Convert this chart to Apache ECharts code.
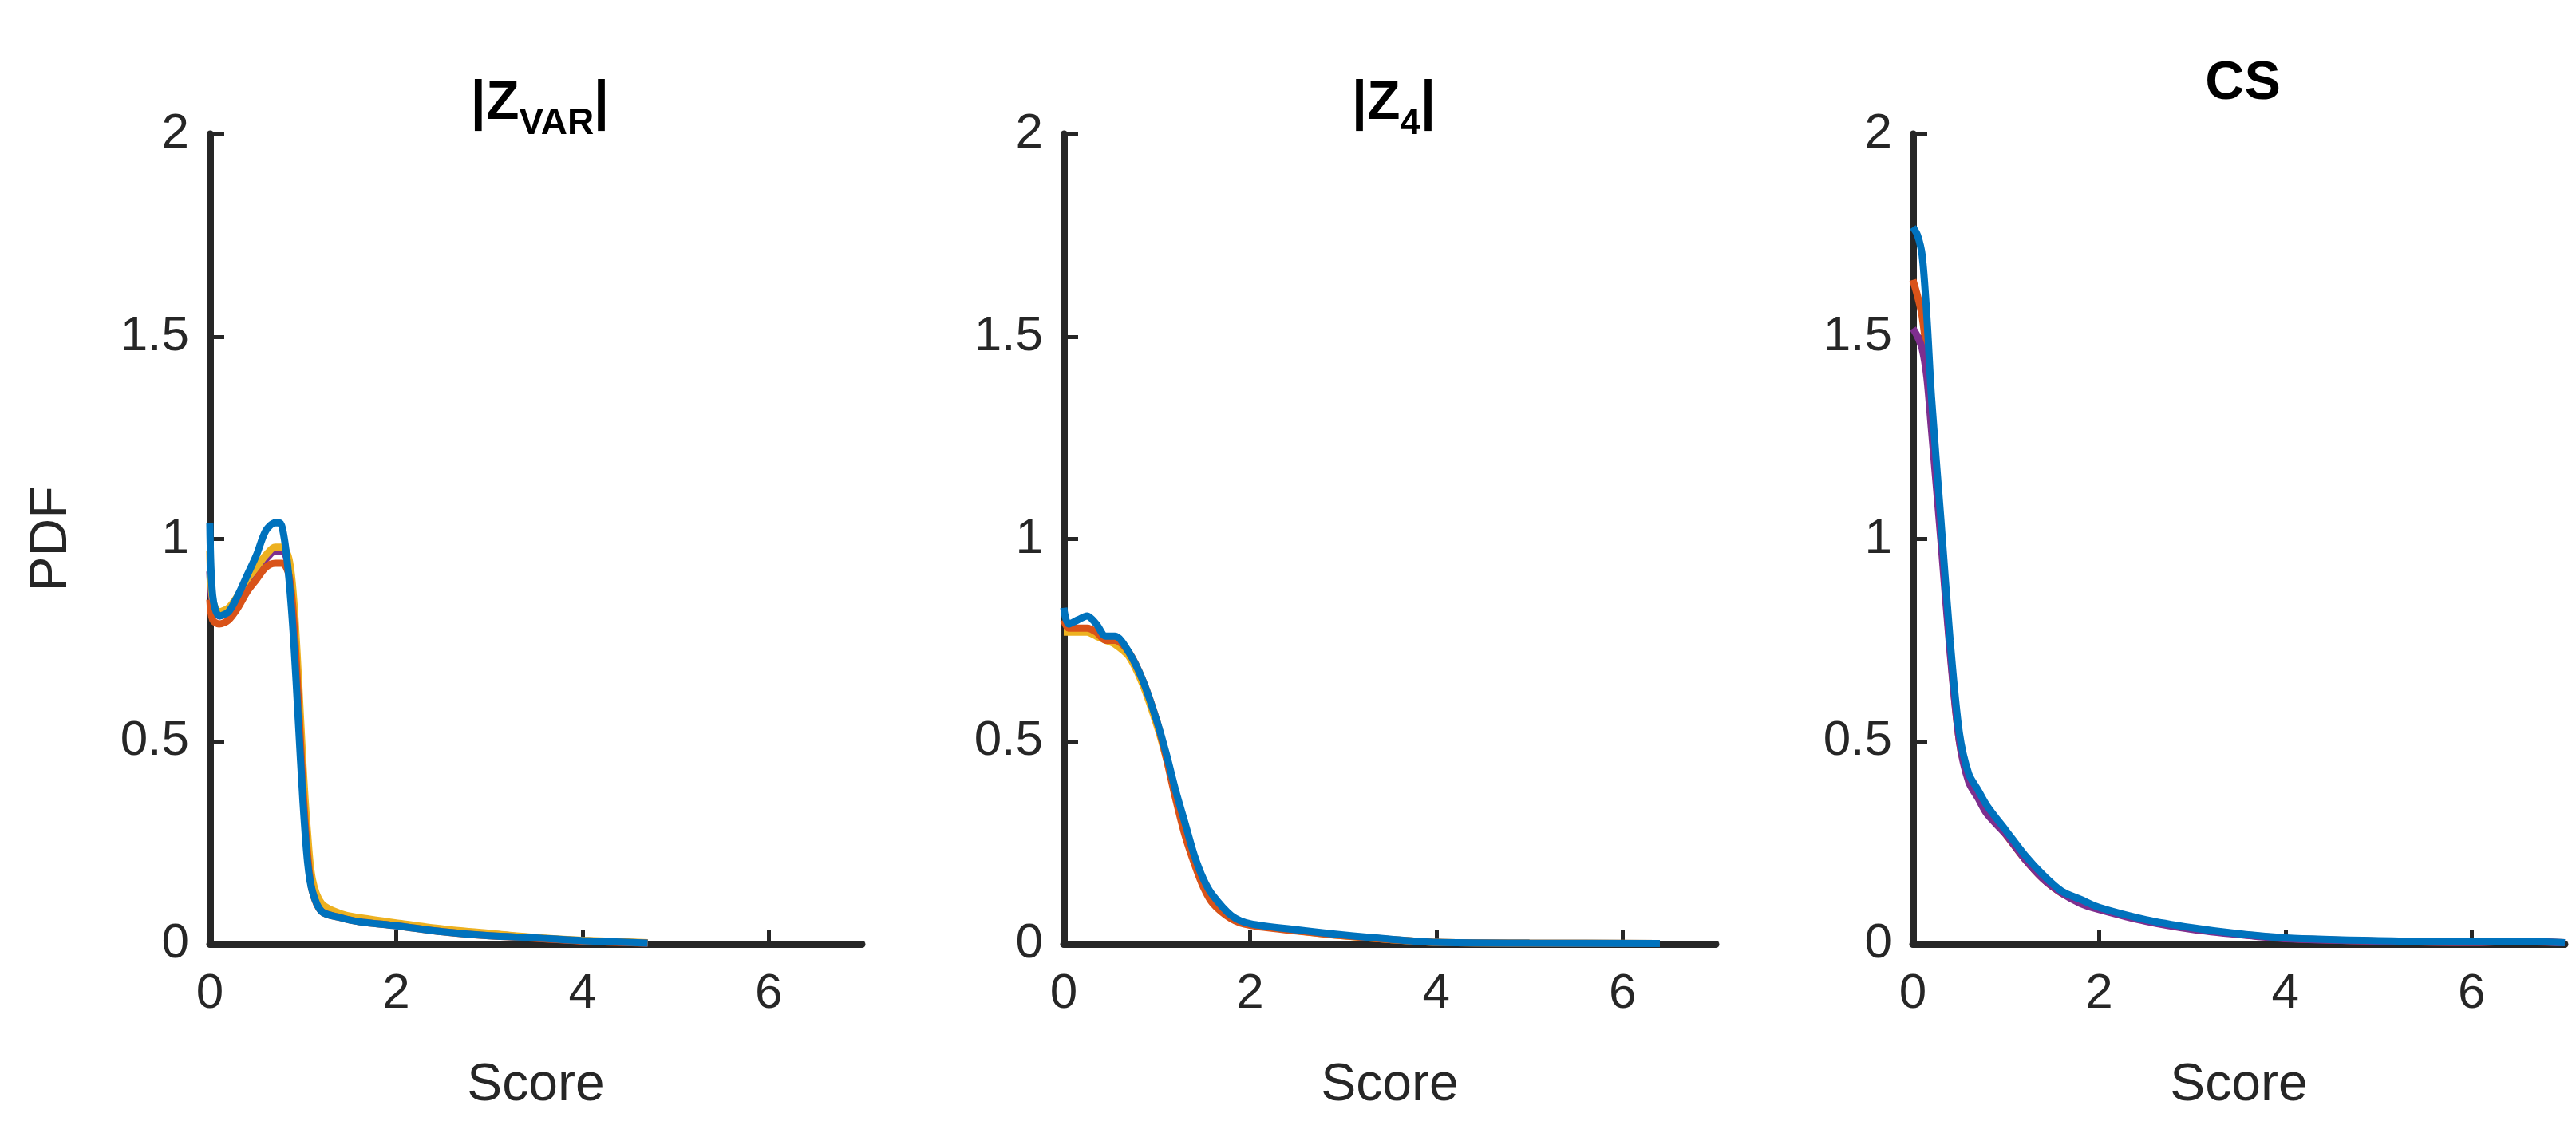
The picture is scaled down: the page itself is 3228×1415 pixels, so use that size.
<!DOCTYPE html>
<html><head><meta charset="utf-8">
<script src="https://cdn.jsdelivr.net/npm/echarts@6/dist/echarts.min.js"></script>
<style>html,body{margin:0;background:#fff}#c{width:3228px;height:1415px}</style>
</head><body><div id="c"></div>
<script>
const xTicks = [0, 2, 4, 6];
const yTicks = [0, 0.5, 1, 1.5, 2];
const colors = ['#7E2F8E','#77AC30','#EDB120','#D95319','#4DBEEE','#A2142F','#0072BD'];

// Panel 1 |Z_VAR|
const p1a = [[0,0.92],[0.03,0.84],[0.1,0.81],[0.2,0.82],[0.3,0.85],[0.4,0.89],[0.5,0.92],[0.6,0.95],[0.7,0.97],[0.78,0.97],[0.85,0.93],[0.9,0.82],[0.95,0.62],[1.0,0.4],[1.05,0.24],[1.1,0.15],[1.2,0.09],[1.4,0.07],[1.6,0.06],[2,0.05],[2.5,0.035],[3,0.025],[3.5,0.015],[4,0.008],[4.7,0.002]];
const p1b = [[0,0.97],[0.03,0.85],[0.1,0.82],[0.2,0.83],[0.3,0.86],[0.4,0.9],[0.5,0.93],[0.6,0.96],[0.7,0.98],[0.78,0.98],[0.85,0.95],[0.9,0.85],[0.95,0.66],[1.0,0.44],[1.05,0.27],[1.1,0.16],[1.2,0.1],[1.4,0.075],[1.6,0.065],[2,0.052],[2.5,0.037],[3,0.026],[3.5,0.016],[4,0.009],[4.7,0.003]];
const p1c = [[0,0.85],[0.03,0.8],[0.1,0.79],[0.2,0.8],[0.3,0.83],[0.4,0.87],[0.5,0.9],[0.6,0.93],[0.7,0.94],[0.78,0.94],[0.85,0.91],[0.9,0.8],[0.95,0.6],[1.0,0.38],[1.05,0.22],[1.1,0.13],[1.2,0.08],[1.4,0.065],[1.6,0.055],[2,0.045],[2.5,0.03],[3,0.02],[3.5,0.014],[4,0.007],[4.7,0.002]];
const p1d = [[0,1.04],[0.03,0.86],[0.1,0.81],[0.2,0.82],[0.3,0.86],[0.4,0.91],[0.5,0.96],[0.6,1.02],[0.7,1.04],[0.75,1.04],[0.8,1.0],[0.85,0.9],[0.9,0.75],[0.95,0.55],[1.0,0.35],[1.05,0.2],[1.1,0.13],[1.2,0.08],[1.4,0.065],[1.6,0.055],[2,0.045],[2.5,0.03],[3,0.02],[3.5,0.015],[4,0.008],[4.7,0.002]];

// Panel 2 |Z_4|
const p2a = [[0,0.77],[0.05,0.77],[0.15,0.77],[0.25,0.77],[0.35,0.76],[0.45,0.75],[0.55,0.74],[0.7,0.71],[0.85,0.64],[1.0,0.54],[1.1,0.46],[1.2,0.37],[1.3,0.29],[1.4,0.21],[1.5,0.15],[1.6,0.11],[1.8,0.065],[2,0.048],[2.5,0.033],[3,0.02],[3.5,0.011],[4,0.004],[5,0.002],[6.4,0.001]];
const p2b = [[0,0.8],[0.05,0.78],[0.15,0.78],[0.25,0.78],[0.35,0.77],[0.45,0.75],[0.55,0.75],[0.7,0.72],[0.85,0.65],[1.0,0.55],[1.1,0.46],[1.2,0.36],[1.3,0.27],[1.4,0.2],[1.5,0.14],[1.6,0.1],[1.8,0.062],[2,0.046],[2.5,0.032],[3,0.02],[3.5,0.011],[4,0.004],[5,0.002],[6.4,0.001]];
const p2c = [[0,0.83],[0.05,0.79],[0.15,0.8],[0.25,0.81],[0.35,0.79],[0.45,0.76],[0.55,0.76],[0.7,0.72],[0.85,0.65],[1.0,0.55],[1.1,0.47],[1.2,0.38],[1.3,0.3],[1.4,0.22],[1.5,0.16],[1.6,0.12],[1.8,0.07],[2,0.05],[2.5,0.035],[3,0.022],[3.5,0.012],[4,0.004],[5,0.002],[6.4,0.001]];

// Panel 3 CS
const p3a = [[0,1.64],[0.05,1.6],[0.1,1.55],[0.15,1.45],[0.2,1.3],[0.3,1.02],[0.4,0.73],[0.5,0.5],[0.6,0.41],[0.7,0.37],[0.8,0.33],[1.0,0.27],[1.2,0.21],[1.4,0.16],[1.6,0.125],[1.8,0.105],[2,0.088],[2.5,0.058],[3,0.038],[3.5,0.024],[4,0.014],[5,0.007],[6,0.004],[6.5,0.006],[7,0.003]];
const p3b = [[0,1.52],[0.05,1.5],[0.1,1.47],[0.15,1.4],[0.2,1.27],[0.3,1.0],[0.4,0.72],[0.5,0.5],[0.6,0.4],[0.7,0.36],[0.8,0.32],[1.0,0.27],[1.2,0.21],[1.4,0.16],[1.6,0.125],[1.8,0.1],[2,0.085],[2.5,0.056],[3,0.036],[3.5,0.023],[4,0.013],[5,0.007],[6,0.004],[6.5,0.006],[7,0.003]];
const p3c = [[0,1.77],[0.05,1.75],[0.1,1.7],[0.15,1.55],[0.2,1.35],[0.3,1.05],[0.4,0.75],[0.5,0.52],[0.6,0.42],[0.7,0.38],[0.8,0.34],[1.0,0.28],[1.2,0.22],[1.4,0.17],[1.6,0.13],[1.8,0.11],[2,0.09],[2.5,0.06],[3,0.04],[3.5,0.025],[4,0.015],[5,0.008],[6,0.005],[6.5,0.007],[7,0.003]];

const panels = [
  {data: [p1a, p1b, p1c, p1d], cols: [colors[0], colors[2], colors[3], colors[6]]},
  {data: [p2a, p2b, p2c], cols: [colors[2], colors[3], colors[6]]},
  {data: [p3a, p3b, p3c], cols: [colors[3], colors[0], colors[6]]}
];
const lefts = [263, 1333, 2397];
const W = 817, TOP = 168, H = 1015;
const font = 'Liberation Sans';
const ax = '#262626';

const grid = [], xAxis = [], yAxis = [], series = [], titles = [];
panels.forEach((p, i) => {
  grid.push({left: lefts[i], top: TOP, width: W, height: H});
  xAxis.push({gridIndex: i, type: 'value', min: 0, max: 7, interval: 2,
    name: 'Score', nameLocation: 'middle', nameGap: 145,
    nameTextStyle: {fontSize: 66, color: ax, fontFamily: font},
    axisLine: {lineStyle: {color: ax, width: 9}},
    axisTick: {inside: true, length: 18, lineStyle: {color: ax, width: 5}},
    axisLabel: {fontSize: 62, color: ax, fontFamily: font, margin: 32, showMaxLabel: false,
      formatter: v => xTicks.includes(v) ? String(v) : ''},
    splitLine: {show: false}});
  yAxis.push({gridIndex: i, type: 'value', min: 0, max: 2, interval: 0.5,
    name: i === 0 ? 'PDF' : '', nameLocation: 'middle', nameGap: 165,
    nameTextStyle: {fontSize: 66, color: ax, fontFamily: font},
    axisLine: {show: true, lineStyle: {color: ax, width: 9}},
    axisTick: {show: true, inside: true, length: 18, lineStyle: {color: ax, width: 5}},
    axisLabel: {fontSize: 62, color: ax, fontFamily: font, margin: 26,
      formatter: v => yTicks.includes(v) ? String(v) : ''},
    splitLine: {show: false}});
  p.data.forEach((d, k) => series.push({type: 'line', xAxisIndex: i, yAxisIndex: i, data: d,
    smooth: 0.3, showSymbol: false, symbol: 'none', lineStyle: {width: 9, color: p.cols[k]}, z: 2 + k}));
});
const tStyle = {fontSize: 68, fontWeight: 'bold', color: '#000', fontFamily: font};
const mkTitle = (i, text) => ({left: lefts[i] + W / 2, top: 60, textAlign: 'center',
  text: text, textStyle: {...tStyle, rich: {
    b: {...tStyle, height: 80},
    s: {fontSize: 46, fontWeight: 'bold', color: '#000', fontFamily: font, height: 80, padding: [50, 0, 0, 0]}}}});
titles.push(mkTitle(0, '{b||Z}{s|VAR}{b||}'));
titles.push(mkTitle(1, '{b||Z}{s|4}{b||}'));
titles.push(mkTitle(2, '{b|CS}'));

const chart = echarts.init(document.getElementById('c'));
chart.setOption({animation: false, backgroundColor: '#fff', title: titles, grid, xAxis, yAxis, series});
</script></body></html>
